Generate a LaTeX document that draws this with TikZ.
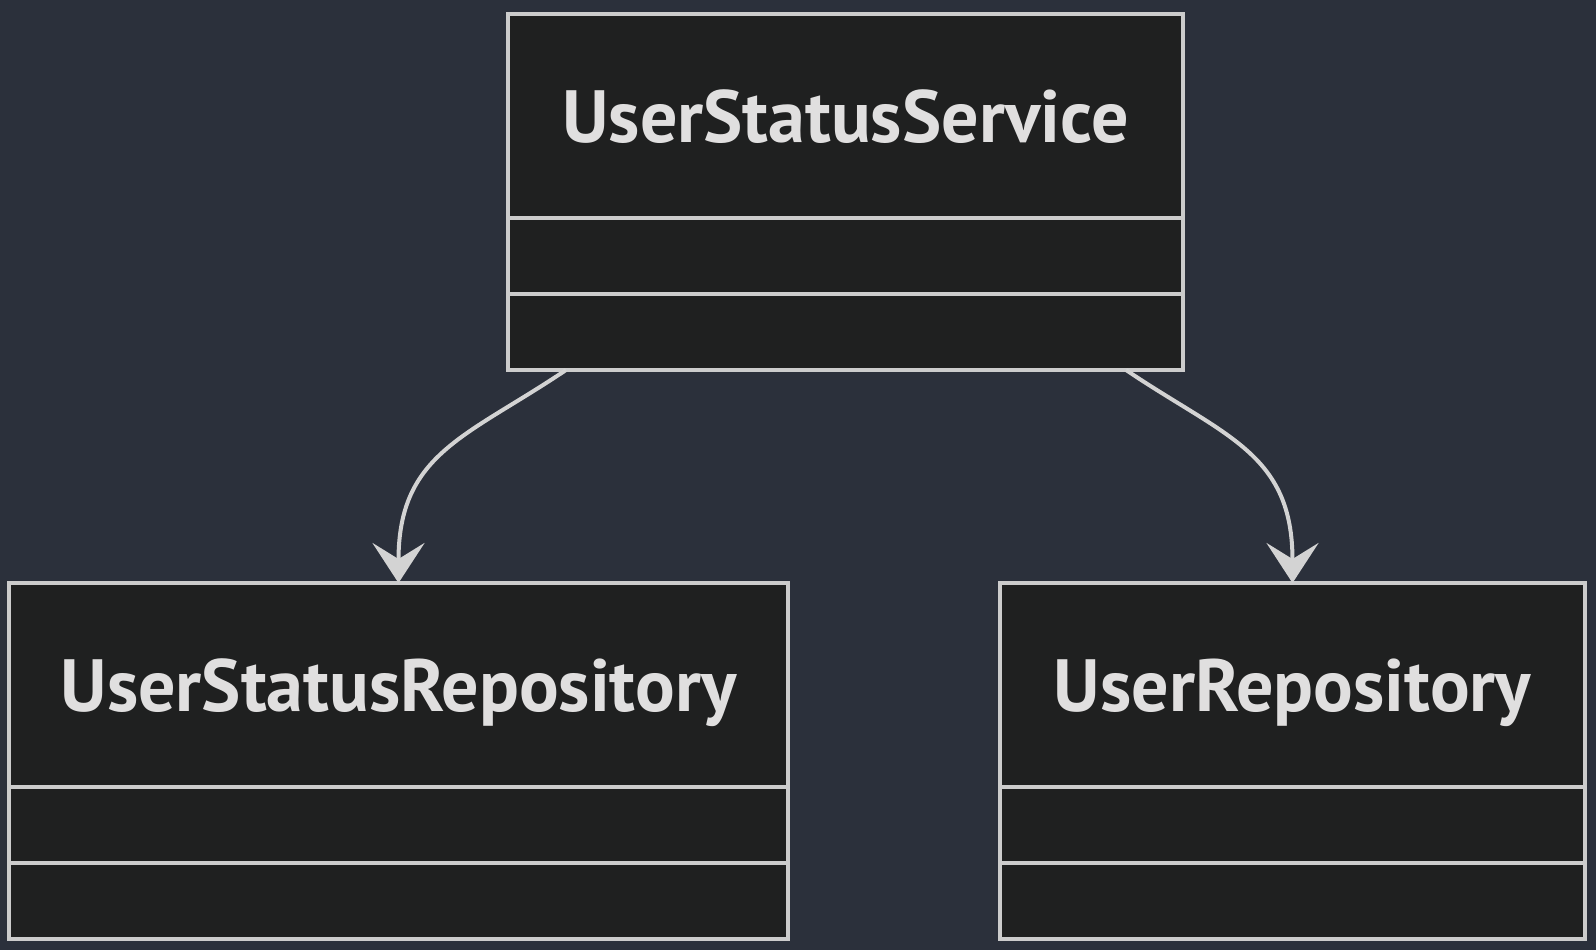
\documentclass[tikz,border=0pt]{standalone}
\usepackage{fontspec}
\setmainfont{PT Sans}
\usepackage{tikz}
\usetikzlibrary{positioning,arrows.meta}
\definecolor{bgslate}{HTML}{2B303B}
\definecolor{boxfill}{HTML}{1F2020}
\definecolor{boxline}{HTML}{CCCCCC}
\definecolor{labeltext}{HTML}{E0DFDF}
\definecolor{arrowline}{HTML}{D3D3D3}
\tikzset{
	classhead/.style={draw=boxline, fill=boxfill, line width=4pt, outer sep=0pt, inner sep=0pt,
		minimum height=204pt, text=labeltext, text height=52pt, text depth=0pt,
		font=\fontsize{74}{80}\selectfont\bfseries},
	classpart/.style={draw=boxline, fill=boxfill, line width=4pt, outer sep=0pt, inner sep=0pt,
		minimum height=76pt},
	depend/.style={draw=arrowline, line width=4pt, -{Stealth[length=40pt, width=52pt, inset=16pt]}}
}
\begin{document}
\begin{tikzpicture}[x=1pt,y=-1pt]
		\fill[bgslate] (0,0) rectangle (1596,950);
		\node[classhead, minimum width=675pt, anchor=north] (Svc) at (845.5,14) {UserStatusService};
		\node[classpart, minimum width=675pt, below=0pt of Svc] (SvcAttr) {};
		\node[classpart, minimum width=675pt, below=0pt of SvcAttr] (SvcOps) {};
		\node[classhead, minimum width=779pt, anchor=north] (StatusRepo) at (398.5,583) {UserStatusRepository};
		\node[classpart, minimum width=779pt, below=0pt of StatusRepo] (StatusRepoAttr) {};
		\node[classpart, minimum width=779pt, below=0pt of StatusRepoAttr] (StatusRepoOps) {};
		\node[classhead, minimum width=585pt, anchor=north] (UserRepo) at (1292.5,583) {UserRepository};
		\node[classpart, minimum width=585pt, below=0pt of UserRepo] (UserRepoAttr) {};
		\node[classpart, minimum width=585pt, below=0pt of UserRepoAttr] (UserRepoOps) {};
		%
		\draw[depend] ([xshift=58pt]SvcOps.south west) to[out=214, in=90, out looseness=1.13, in looseness=1.23] (StatusRepo.north);
		\draw[depend] ([xshift=-57pt]SvcOps.south east) to[out=326, in=90, out looseness=1.13, in looseness=1.23] (UserRepo.north);
\end{tikzpicture}
\end{document}
